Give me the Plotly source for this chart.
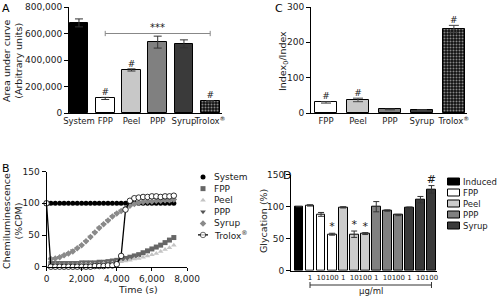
import plotly.graph_objects as go

W, H = 499, 296
def px(x): return x / W
def py(y): return 1 - y / H

FONT = "DejaVu Sans"
INK = "#1a1a1a"

# ---------------- Panel A data ----------------
a_cats = ["System", "FPP", "Peel", "PPP", "Syrup", "Trolox<sup>®</sup>"]
a_vals = [680000, 110000, 325000, 535000, 522000, 88000]
a_err = [30000, 8000, 8000, 45000, 30000, 5000]
a_marks = ["", "#", "#", "", "", "#"]
a_colors = ["#000000", "#ffffff", "#c8c8c8", "#808080", "#3a3a3a", "#111111"]

# ---------------- Panel C data ----------------
c_cats = ["FPP", "Peel", "PPP", "Syrup", "Trolox<sup>®</sup>"]
c_vals = [30, 37, 10, 8, 238]
c_err = [2, 5, 1, 1, 10]
c_marks = ["#", "#", "", "", "#"]
c_colors = ["#ffffff", "#c8c8c8", "#808080", "#3a3a3a", "#111111"]

# ---------------- Panel B data ----------------
b_time = [0, 250, 500, 750, 1000, 1250, 1500, 1750, 2000, 2250, 2500, 2750, 3000,
          3250, 3500, 3750, 4000, 4250, 4500, 4750, 5000, 5250, 5500, 5750, 6000,
          6250, 6500, 6750, 7000, 7250]
b_system = [100] * 30
b_fpp = [100, 5, 5, 5, 5, 5, 5, 5, 6, 6, 6, 6, 7, 7, 8, 9, 10, 12, 13, 15, 17, 19,
         22, 25, 28, 31, 34, 38, 42, 46]
b_peel = [100, 3, 3, 3, 3, 3, 3, 3, 4, 4, 4, 4, 4, 5, 5, 6, 7, 8, 9, 10, 12, 13,
          15, 17, 19, 21, 24, 27, 30, 34]
b_ppp = [100, 12, 13, 15, 18, 21, 25, 29, 34, 40, 47, 54, 61, 67, 73, 79, 84, 88,
         92, 96, 99, 101, 102, 102, 103, 103, 104, 104, 104, 105]
b_syrup = [100, 12, 13, 15, 18, 21, 24, 29, 34, 40, 47, 54, 61, 67, 73, 79, 84, 88,
           92, 96, 99, 101, 102, 103, 103, 104, 104, 105, 105, 106]
b_trolox = [100, 0, 0, 0, 0, 0, 0, 0, 0, 0, 0, 1, 1, 1, 2, 2, 4, 17, 90, 104, 108,
            109, 110, 110, 111, 111, 110, 111, 111, 112]
b_names = ["System", "FPP", "Peel", "PPP", "Syrup", "Trolox<sup>®</sup>"]
b_series = [b_system, b_fpp, b_peel, b_ppp, b_syrup, b_trolox]
b_symbols = ["circle", "square", "triangle-up", "triangle-down", "diamond", "circle"]
b_colors = ["#000000", "#666666", "#c4c4c4", "#555555", "#8a8a8a", "#ffffff"]

# ---------------- Panel D data ----------------
d_groups = ["Induced", "FPP", "Peel", "PPP", "Syrup"]
d_group_colors = ["#000000", "#ffffff", "#cccccc", "#808080", "#3a3a3a"]
d_bar_group = [0, 1, 1, 1, 2, 2, 2, 3, 3, 3, 4, 4, 4]
d_doses = ["", "1", "10", "100", "1", "10", "100", "1", "10", "100", "1", "10", "100"]
d_vals = [100, 102, 88, 57, 99, 57, 58, 100, 94, 87, 98, 111, 127]
d_err = [0, 1, 3, 1.5, 1, 5, 1.5, 8, 1, 1, 1.5, 5, 6]
d_marks = ["", "", "", "*", "", "*", "*", "", "", "", "", "", "#"]

fig = go.Figure()

PATTERN = dict(fgcolor="white", bgcolor="#111111", size=3, solidity=0.35)

# ---- Panel A bars
fig.add_trace(go.Bar(
    x=list(range(len(a_cats))), y=a_vals, width=0.72,
    marker=dict(color=a_colors, line=dict(color="black", width=1),
                pattern=dict(shape=["", "", "", "", "", "."], **PATTERN)),
    error_y=dict(type="data", array=a_err, color="#333", thickness=1, width=4),
    xaxis="x", yaxis="y", showlegend=False))
fig.add_trace(go.Scatter(
    x=list(range(len(a_cats))), y=[v + e for v, e in zip(a_vals, a_err)],
    text=a_marks, mode="text", textposition="top center",
    textfont=dict(family=FONT, size=9, color=INK), cliponaxis=False,
    xaxis="x", yaxis="y", showlegend=False))

# ---- Panel C bars
fig.add_trace(go.Bar(
    x=list(range(len(c_cats))), y=c_vals, width=0.7,
    marker=dict(color=c_colors, line=dict(color="black", width=1),
                pattern=dict(shape=["", "", "", "", "."], **PATTERN)),
    error_y=dict(type="data", array=c_err, color="#444", thickness=1, width=5),
    xaxis="x2", yaxis="y2", showlegend=False))
fig.add_trace(go.Scatter(
    x=list(range(len(c_cats))), y=[v + e for v, e in zip(c_vals, c_err)],
    text=c_marks, mode="text", textposition="top center",
    textfont=dict(family=FONT, size=9, color=INK), cliponaxis=False,
    xaxis="x2", yaxis="y2", showlegend=False))

# ---- Panel B curves
for i, (name, ser) in enumerate(zip(b_names, b_series)):
    is_trolox = i == 5
    fig.add_trace(go.Scatter(
        x=b_time, y=ser, mode="lines+markers" if is_trolox else "markers",
        line=dict(color="black", width=1.3),
        marker=dict(symbol=b_symbols[i], color=b_colors[i],
                    size=5.5 if is_trolox else 5,
                    line=dict(color="black", width=0.8) if is_trolox else dict(width=0)),
        xaxis="x3", yaxis="y3", cliponaxis=False, showlegend=False))

# ---- Panel B legend (hidden axes)
for i, name in enumerate(b_names):
    is_trolox = i == 5
    fig.add_trace(go.Scatter(
        x=[3, 8, 13] if is_trolox else [8], y=[i] * (3 if is_trolox else 1),
        mode="lines+markers" if is_trolox else "markers",
        line=dict(color="black", width=1.3),
        marker=dict(symbol=b_symbols[i], color=b_colors[i],
                    size=[0, 5.5, 0] if is_trolox else 5,
                    line=dict(color="black", width=0.8) if is_trolox else dict(width=0)),
        xaxis="x5", yaxis="y5", cliponaxis=False, showlegend=False))
    fig.add_annotation(x=17, y=i, xref="x5", yref="y5", text=name, showarrow=False,
                       xanchor="left", yanchor="middle",
                       font=dict(family=FONT, size=9, color=INK))

# ---- Panel D bars
fig.add_trace(go.Bar(
    x=list(range(len(d_vals))), y=d_vals, width=0.8,
    marker=dict(color=[d_group_colors[g] for g in d_bar_group],
                line=dict(color="black", width=1)),
    error_y=dict(type="data", array=d_err, color="#333", thickness=1, width=3),
    xaxis="x4", yaxis="y4", showlegend=False))
fig.add_trace(go.Scatter(
    x=list(range(len(d_vals))), y=[v + e for v, e in zip(d_vals, d_err)],
    text=d_marks, mode="text", textposition="top center",
    textfont=dict(family=FONT, size=11, color=INK), cliponaxis=False,
    xaxis="x4", yaxis="y4", showlegend=False))

# ---- Panel D legend (hidden axes)
fig.add_trace(go.Bar(
    y=list(range(len(d_groups))), x=[12] * len(d_groups), base=2, width=0.62,
    orientation="h",
    marker=dict(color=d_group_colors, line=dict(color="black", width=1)),
    xaxis="x6", yaxis="y6", showlegend=False))
for i, g in enumerate(d_groups):
    fig.add_annotation(x=15, y=i, xref="x6", yref="y6", text=g, showarrow=False,
                       xanchor="left", yanchor="middle",
                       font=dict(family=FONT, size=8.5, color=INK))

# ---- shapes: significance bracket in A
fig.add_shape(type="line", xref="x", yref="y", x0=1, x1=5, y0=600000, y1=600000,
              line=dict(color="#888", width=1))
for xe in (1, 5):
    fig.add_shape(type="line", xref="x", yref="y", x0=xe, x1=xe, y0=580000, y1=620000,
                  line=dict(color="#888", width=1))
fig.add_annotation(x=3, y=600000, xref="x", yref="y", text="***", showarrow=False,
                   yanchor="bottom", yshift=-1, font=dict(family=FONT, size=10, color=INK))

# ---- bracket under D
fig.add_shape(type="line", xref="x4", yref="paper", x0=1, x1=12, y0=py(285), y1=py(285),
              line=dict(color="#333", width=1))
for xe in (1, 12):
    fig.add_shape(type="line", xref="x4", yref="paper", x0=xe, x1=xe,
                  y0=py(282), y1=py(288), line=dict(color="#333", width=1))
fig.add_annotation(x=6.5, y=py(291), xref="x4", yref="paper", text="μg/ml",
                   showarrow=False, yanchor="middle",
                   font=dict(family=FONT, size=8.5, color=INK))

# ---- panel letters
for letter, x, y in [("A", 0, 0), ("B", 0, 160), ("C", 273, 0), ("D", 281, 167)]:
    fig.add_annotation(x=px(x), y=py(y), xref="paper", yref="paper", text=letter,
                       showarrow=False, xanchor="left", yanchor="top",
                       font=dict(family=FONT, size=11, color="black"))

# ---- axis titles
for text, x, y in [("Area under curve<br>(Arbitrary units)", 12, 61),
                   ("Index<sub>0</sub>/Index", 283, 61),
                   ("Chemiluminescence<br>(%CPM)", 12, 221),
                   ("Glycation (%)", 263, 221)]:
    fig.add_annotation(x=px(x), y=py(y), xref="paper", yref="paper", text=text,
                       showarrow=False, textangle=-90, xanchor="center", yanchor="middle",
                       font=dict(family=FONT, size=9.5, color=INK))
fig.add_annotation(x=px(116), y=py(289), xref="paper", yref="paper", text="Time (s)",
                   showarrow=False, yanchor="middle",
                   font=dict(family=FONT, size=9.5, color=INK))

def axis(**kw):
    base = dict(showline=True, linecolor="black", linewidth=1, showgrid=False,
                zeroline=False, tickfont=dict(family=FONT, size=9, color=INK),
                ticklen=4, tickcolor="black", tickangle=0, automargin=False)
    base.update(kw)
    return base

XFONT = dict(family=FONT, size=8.5, color=INK)

fig.update_layout(
    width=W, height=H, margin=dict(l=0, r=0, t=0, b=0, autoexpand=False),
    plot_bgcolor="white", paper_bgcolor="white", bargap=0,
    xaxis=axis(domain=[px(69), px(222)], range=[-0.38, 5.45], anchor="y",
               tickvals=list(range(len(a_cats))), ticktext=a_cats, ticks="",
               tickfont=XFONT),
    yaxis=axis(domain=[py(113), py(7)], range=[0, 800000], anchor="x",
               tickvals=[0, 200000, 400000, 600000, 800000],
               ticktext=["0", "200,000", "400,000", "600,000", "800,000"],
               ticks="outside"),
    xaxis2=axis(domain=[px(311), px(467)], range=[-0.47, 4.41], anchor="y2",
                tickvals=list(range(len(c_cats))), ticktext=c_cats, ticks="",
                tickfont=XFONT),
    yaxis2=axis(domain=[py(113), py(7)], range=[0, 300], anchor="x2",
                tickvals=[0, 100, 200, 300], ticks="outside"),
    xaxis3=axis(domain=[px(46.5), px(187)], range=[0, 8000], anchor="y3",
                tickvals=[0, 2000, 4000, 6000, 8000],
                ticktext=["0", "2,000", "4,000", "6,000", "8,000"],
                ticks="outside", ticklen=3),
    yaxis3=axis(domain=[py(266.7), py(171.6)], range=[0, 150], anchor="x3",
                tickvals=[0, 50, 100, 150], ticks="outside"),
    xaxis4=axis(domain=[px(291), px(437)], range=[-0.72, 12.5], anchor="y4",
                tickvals=list(range(len(d_doses))), ticktext=d_doses, ticks="",
                tickfont=dict(family=FONT, size=7, color=INK)),
    yaxis4=axis(domain=[py(270.7), py(174.7)], range=[0, 150], anchor="x4",
                tickvals=[0, 50, 100, 150], ticks="outside"),
    xaxis5=dict(domain=[px(195), px(260)], range=[0, 65], anchor="y5", visible=False),
    yaxis5=dict(domain=[py(240.75), py(171.25)], range=[5.5, -0.5], anchor="x5",
                visible=False),
    xaxis6=dict(domain=[px(446), px(499)], range=[0, 53], anchor="y6", visible=False),
    yaxis6=dict(domain=[py(231.5), py(176.5)], range=[4.5, -0.5], anchor="x6",
                visible=False),
)

fig.write_html("out.html", config={"displayModeBar": False},
               post_script="document.body.style.margin='0';document.body.style.padding='0';")
